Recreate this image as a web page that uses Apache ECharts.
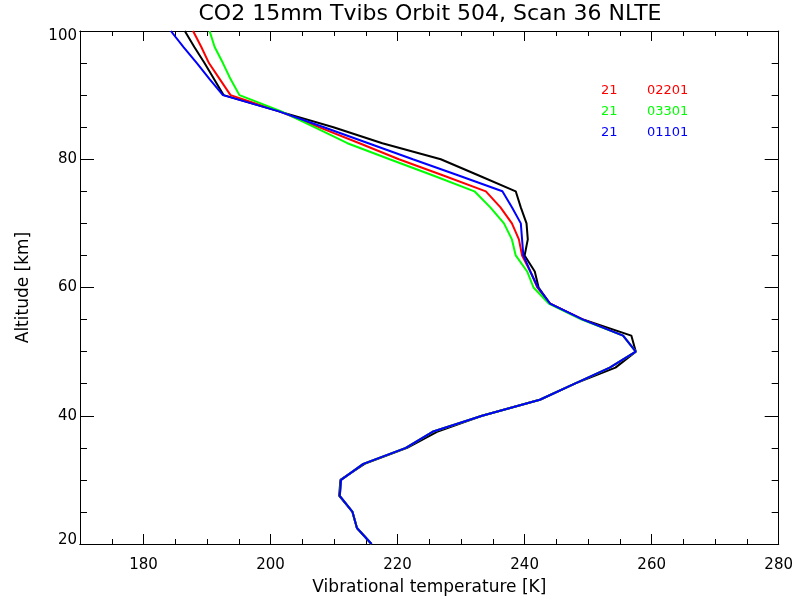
<!DOCTYPE html>
<html><head><meta charset="utf-8">
<script src="https://cdn.jsdelivr.net/npm/echarts@6/dist/echarts.min.js"></script>
<style>html,body{margin:0;padding:0;background:#fff}#c{width:796px;height:601px}</style>
</head><body><div id="c"></div>
<script>
const altitudes = [100,97.5,95,92.5,90,87.5,85,82.5,80,77.5,75,72.5,70,67.5,65,62.5,60,57.5,55,52.5,50,47.5,45,42.5,40,37.5,35,32.5,30,27.5,25,22.5,20];
const black = [186.5,188.0,189.6,191.1,192.6,201.2,209.9,217.6,226.8,232.7,238.6,239.4,240.3,240.5,240.0,241.6,242.2,244.0,249.2,256.8,257.5,254.3,247.9,242.4,233.3,226.2,221.5,214.8,211.0,210.8,212.9,213.6,215.9];
const red   = [187.8,189.1,190.3,192.0,193.7,201.3,207.6,214.0,220.2,227.1,233.9,236.2,238.0,239.1,239.6,240.9,242.0,244.0,249.2,255.5,257.5,253.4,247.9,242.4,233.3,225.5,221.3,214.6,211.1,210.9,212.9,213.6,215.9];
const green = [190.4,191.2,192.5,193.7,195.1,201.6,206.9,212.1,218.75,225.5,232.1,234.6,236.75,238.0,238.6,240.4,241.4,243.8,249.0,255.5,257.5,253.4,247.9,242.4,233.3,225.5,221.3,214.6,211.1,210.9,212.9,213.6,215.9];
const blue  = [184.3,186.3,188.4,190.4,192.5,201.2,208.4,215.4,222.4,229.5,236.5,238.0,239.4,239.6,239.8,240.9,242.1,244.0,249.2,255.5,257.5,253.4,247.9,242.4,233.3,225.5,221.3,214.6,211.1,210.9,212.9,213.6,215.9];
const xTickLabels = [180,200,220,240,260,280];
const legendLabels = [["21","02201","#ff0000"],["21","03301","#00ff00"],["21","01101","#0000ff"]];
const titleText = "CO2 15mm Tvibs Orbit 504, Scan 36 NLTE";
const xName = "Vibrational temperature [K]";
const yName = "Altitude [km]";

const FONT = "DejaVu Sans";
function pairs(arr){ return arr.map((v,i)=>[v, altitudes[i]]); }
function mkSeries(name, arr, color){
  return {name, type:'line', data: pairs(arr), xAxisIndex:0, yAxisIndex:0, showSymbol:false, symbol:'none', smooth:false,
    lineStyle:{color, width:2}, itemStyle:{color}, animation:false, z:3};
}
const axisLine = {show:true, lineStyle:{color:'#000', width:1}};
const chart = echarts.init(document.getElementById('c'), null, {renderer:'canvas'});
const xMinor = {type:'value', min:170, max:280, interval:5, axisLine,
  axisTick:{inside:true, length:5, lineStyle:{color:'#000', width:1}},
  axisLabel:{show:false}, splitLine:{show:false}};
const xMajor = {type:'value', min:170, max:280, interval:5, axisLine,
  axisTick:{inside:true, length:10, customValues:xTickLabels, lineStyle:{color:'#000', width:1}},
  axisLabel:{show:false}, splitLine:{show:false}};
const yBase = {type:'value', min:20, max:100, interval:20, axisLine,
  axisTick:{inside:true, length:14, lineStyle:{color:'#000', width:1}},
  minorTick:{show:true, splitNumber:4, length:7, lineStyle:{color:'#000', width:1}},
  splitLine:{show:false}};
const graphics = [{type:'text', x:430, y:14, style:{text:titleText, fill:'#000', font:'22px "'+FONT+'"', align:'center', verticalAlign:'middle'}}];
legendLabels.forEach((l,i)=>{
  graphics.push({type:'text', left:601, top:84+i*21, style:{text:l[0], fill:l[2], font:'13px "'+FONT+'"'}});
  graphics.push({type:'text', left:647, top:84+i*21, style:{text:l[1], fill:l[2], font:'13px "'+FONT+'"'}});
});
const lblStyle = {fontFamily:FONT, fontSize:15, color:'#000'};
chart.setOption({
  backgroundColor:'#fff',
  animation:false,
  grid:{left:80, right:13, top:31, bottom:55, containLabel:false},
  xAxis:[
    Object.assign({}, xMinor, {position:'bottom'}),
    Object.assign({}, xMajor, {position:'bottom', name:xName, nameLocation:'middle', nameGap:35,
      nameTextStyle:{fontFamily:FONT, fontSize:17, color:'#000'},
      axisLabel:{show:true, customValues:xTickLabels, fontFamily:FONT, fontSize:15, color:'#000', margin:14}}),
    Object.assign({}, xMinor, {position:'top'}),
    Object.assign({}, xMajor, {position:'top'})
  ],
  yAxis:[
    Object.assign({}, yBase, {position:'left', name:yName, nameLocation:'middle', nameGap:48,
      nameTextStyle:{fontFamily:FONT, fontSize:17, color:'#000'},
      axisLabel:{fontFamily:FONT, fontSize:15, color:'#000', margin:3,
        formatter:function(v){ return v===20 ? '{lo|'+v+'}' : (v===100 ? '{hi|'+v+'}' : String(v)); },
        rich:{lo:Object.assign({padding:[0,0,8,0]}, lblStyle), hi:Object.assign({padding:[11,0,0,0]}, lblStyle)}}}),
    Object.assign({}, yBase, {position:'right', axisLabel:{show:false}})
  ],
  graphic: graphics,
  series:[
    mkSeries('black', black, '#000000'),
    mkSeries('red', red, '#ff0000'),
    mkSeries('green', green, '#00ff00'),
    mkSeries('blue', blue, '#0000ff')
  ]
});
</script></body></html>
